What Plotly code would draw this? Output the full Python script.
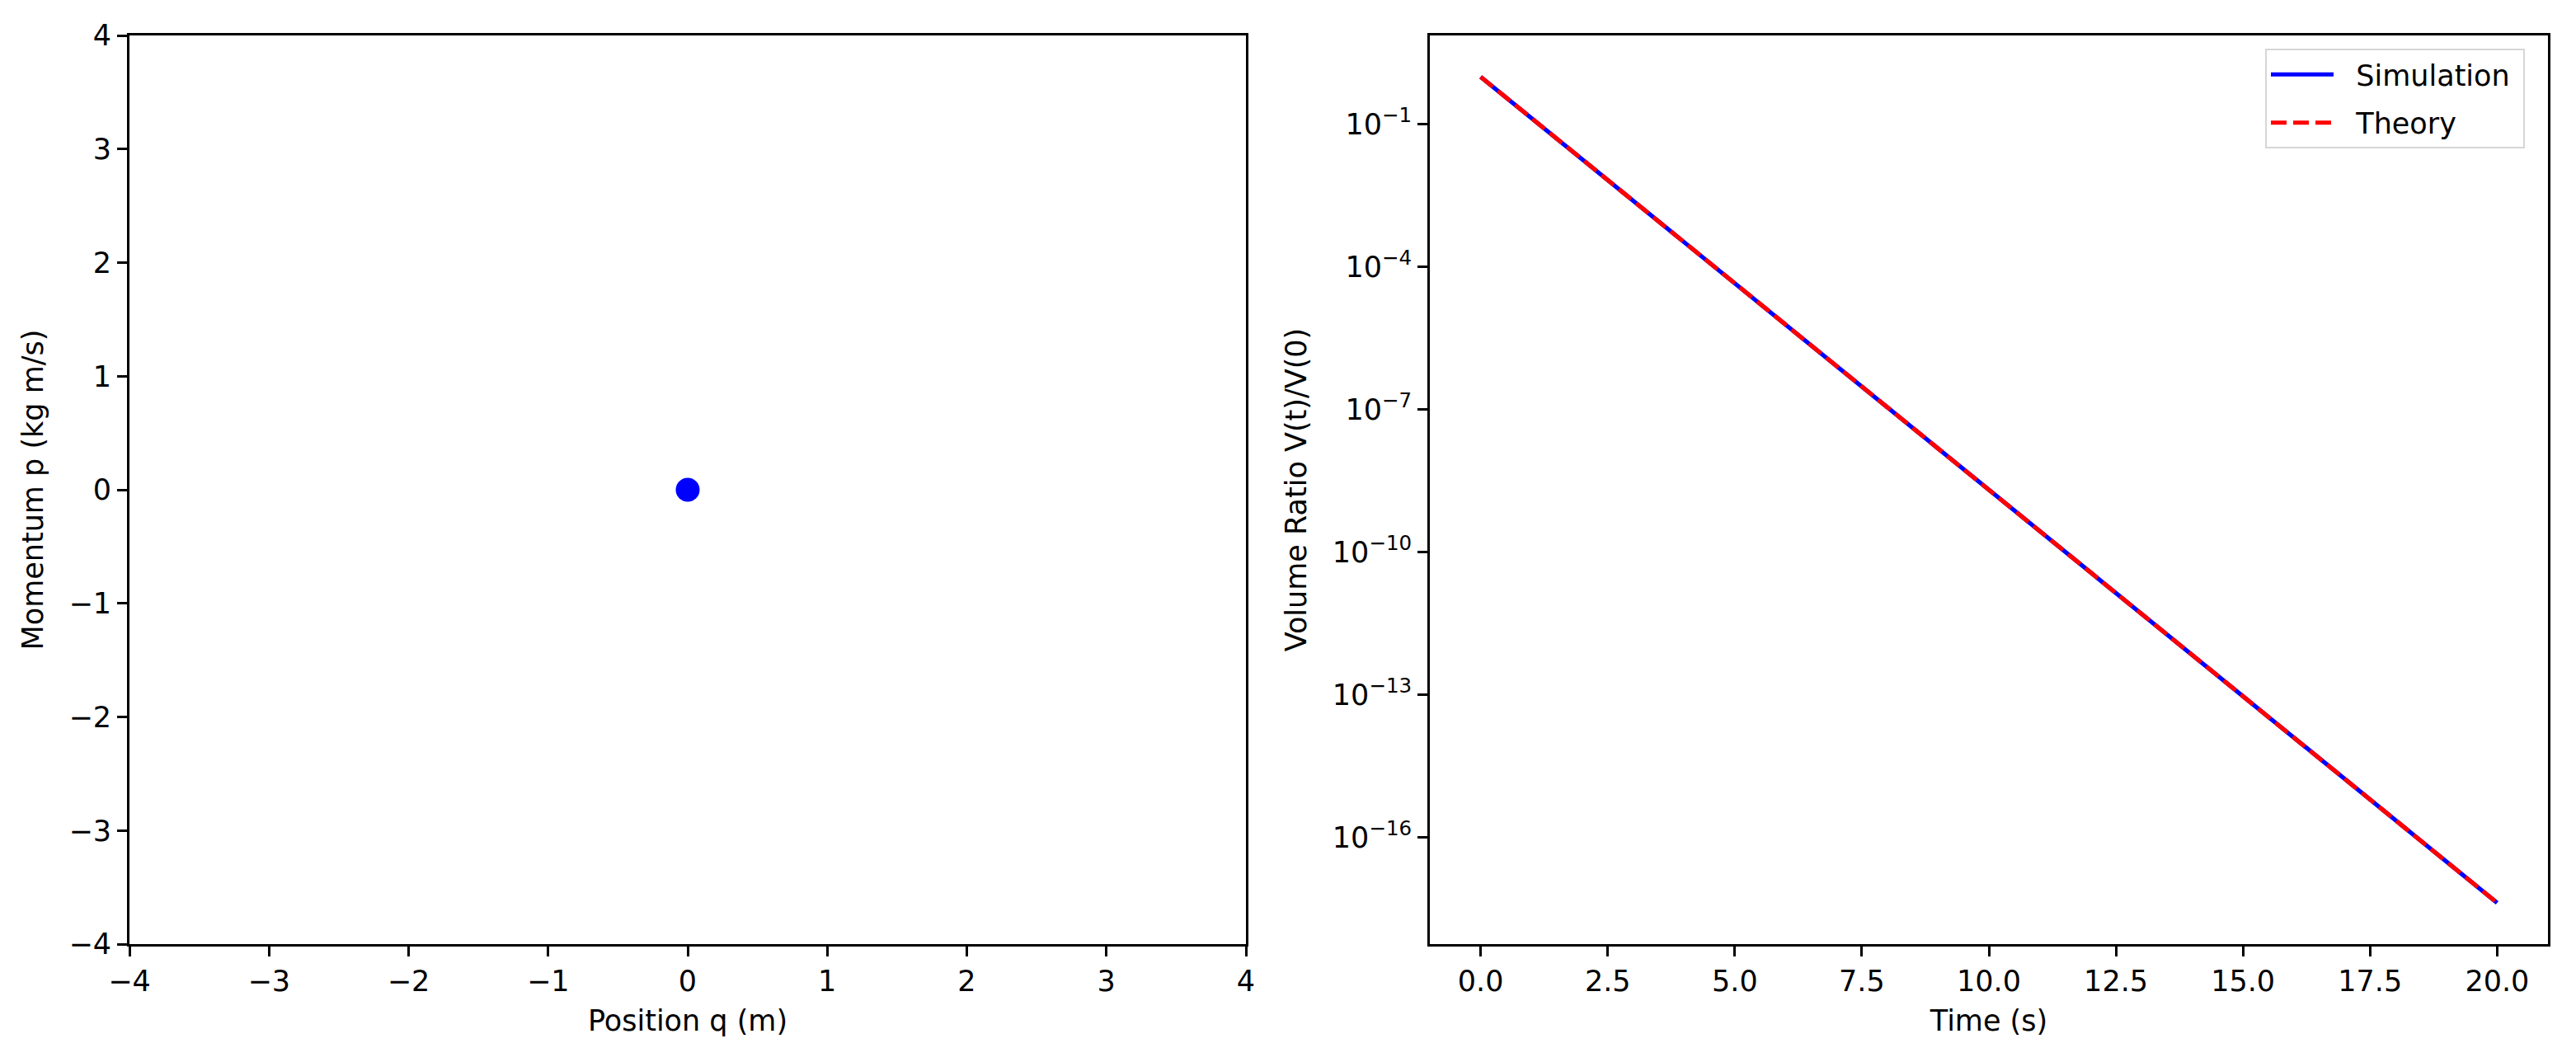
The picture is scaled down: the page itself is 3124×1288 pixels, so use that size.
import plotly.graph_objects as go

# Left panel: phase-space point
q_vals = [0.0]
p_vals = [0.0]

# Right panel: volume ratio over time
time_s = [0.0, 2.5, 5.0, 7.5, 10.0, 12.5, 15.0, 17.5, 20.0]
sim_ratio = [1.0, 6.74e-3, 4.54e-5, 3.06e-7, 2.06e-9, 1.39e-11, 9.36e-14, 6.31e-16, 4.25e-18]
theory_ratio = [1.0, 6.74e-3, 4.54e-5, 3.06e-7, 2.06e-9, 1.39e-11, 9.36e-14, 6.31e-16, 4.25e-18]
series_names = ["Simulation", "Theory"]

lin_ticks = [-4, -3, -2, -1, 0, 1, 2, 3, 4]
lin_tick_text = ["\u22124", "\u22123", "\u22122", "\u22121", "0", "1", "2", "3", "4"]
time_ticks = [0.0, 2.5, 5.0, 7.5, 10.0, 12.5, 15.0, 17.5, 20.0]
time_tick_text = ["0.0", "2.5", "5.0", "7.5", "10.0", "12.5", "15.0", "17.5", "20.0"]
log_ticks = [1e-1, 1e-4, 1e-7, 1e-10, 1e-13, 1e-16]
log_tick_text = ["10<sup>\u22121</sup>", "10<sup>\u22124</sup>", "10<sup>\u22127</sup>",
                 "10<sup>\u221210</sup>", "10<sup>\u221213</sup>", "10<sup>\u221216</sup>"]

W, H = 3124, 1288
FONT = "DejaVu Sans"
FS = 35
NB = "\u00a0"

fig = go.Figure()
fig.add_trace(go.Scatter(x=q_vals, y=p_vals, mode="markers",
                         marker=dict(color="#0000ff", size=29, line=dict(width=0)),
                         showlegend=False, xaxis="x", yaxis="y"))
fig.add_trace(go.Scatter(x=time_s, y=sim_ratio, mode="lines",
                         name=NB * 2 + series_names[0] + NB,
                         line=dict(color="#0000ff", width=5.2), legendgroup="a",
                         xaxis="x2", yaxis="y2"))
fig.add_trace(go.Scatter(x=time_s, y=theory_ratio, mode="lines",
                         name=NB * 2 + series_names[1],
                         line=dict(color="#ff0000", width=5.2, dash="19px,8px"), legendgroup="b",
                         xaxis="x2", yaxis="y2"))

axis_common = dict(showline=True, linecolor="black", linewidth=2.8, mirror=True,
                   ticks="outside", ticklen=12, tickwidth=2.8, tickcolor="black",
                   showgrid=False, zeroline=False, automargin=False,
                   tickfont=dict(family=FONT, size=FS, color="black"))
ytop = 1 - 43 / H
ybot = 1 - 1145 / H

fig.update_layout(
    template="none",
    width=W, height=H,
    margin=dict(l=0, r=0, t=0, b=0, pad=0),
    paper_bgcolor="white", plot_bgcolor="white",
    font=dict(family=FONT, size=FS, color="black"),
    xaxis=dict(domain=[157 / W, 1511 / W], range=[-4, 4], tickvals=lin_ticks,
               ticktext=lin_tick_text, anchor="y",
               title=dict(text="Position q (m)", font=dict(family=FONT, size=FS), standoff=17),
               **axis_common),
    yaxis=dict(domain=[ybot, ytop], range=[-4, 4], tickvals=lin_ticks,
               ticktext=lin_tick_text, anchor="x",
               title=dict(text="Momentum p (kg m/s)", font=dict(family=FONT, size=FS), standoff=21),
               **axis_common),
    xaxis2=dict(domain=[1734 / W, 3090 / W], range=[-1, 21], tickvals=time_ticks,
                ticktext=time_tick_text, anchor="y2",
                title=dict(text="Time (s)", font=dict(family=FONT, size=FS), standoff=17),
                **axis_common),
    yaxis2=dict(domain=[ybot, ytop], type="log", range=[-18.24, 0.87], tickvals=log_ticks,
                ticktext=log_tick_text, anchor="x2",
                title=dict(text="Volume Ratio V(t)/V(0)", font=dict(family=FONT, size=FS), standoff=21),
                **axis_common),
    legend=dict(x=3062 / W, y=1 - 59 / H, xanchor="right", yanchor="top",
                bgcolor="rgba(255,255,255,0.8)", bordercolor="#d6d6d6", borderwidth=2,
                font=dict(family=FONT, size=FS, color="black"), itemwidth=76,
                tracegroupgap=10),
)

fig.write_html("out.html", config={"displayModeBar": False},
               post_script="document.body.style.margin='0';")
